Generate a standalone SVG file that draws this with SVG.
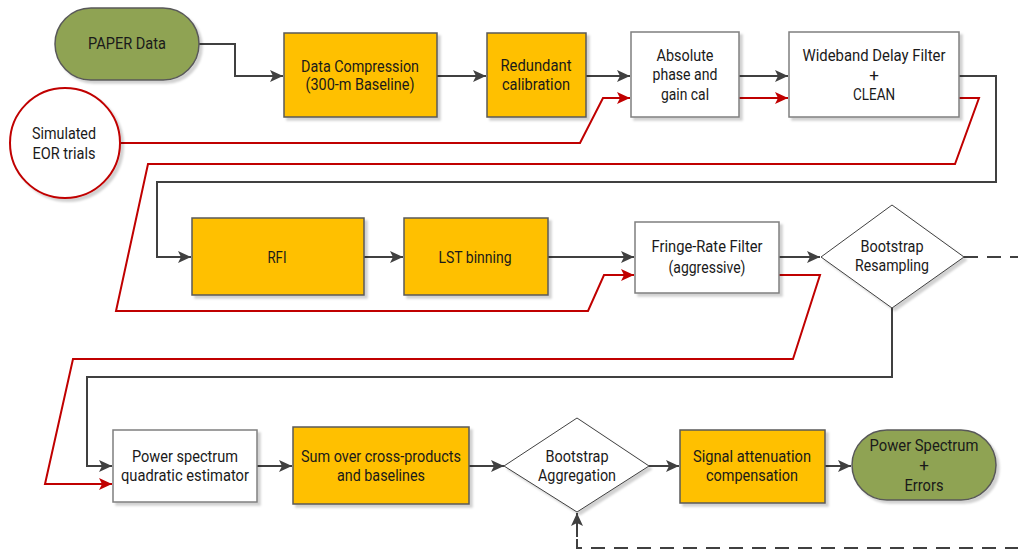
<svg xmlns="http://www.w3.org/2000/svg" width="1018" height="550" viewBox="0 0 1018 550">
<style>
text{font-family:Roboto,"Liberation Sans",Arial,sans-serif;font-size:17px;fill:#1a1a1a;text-anchor:middle;dominant-baseline:central}
.y{fill:#FFC000;stroke:#595959;stroke-width:1.5}
.w{fill:#ffffff;stroke:#7f7f7f;stroke-width:1.5}
.g{fill:#8FA352;stroke:#595959;stroke-width:1.5}
.d{fill:#ffffff;stroke:#404040;stroke-width:1}
.k{fill:none;stroke:#404040;stroke-width:2}
.r{fill:none;stroke:#C00000;stroke-width:2}
.ds{fill:none;stroke:#404040;stroke-width:2;stroke-dasharray:14 9}
</style>
<defs>
<filter id="sh" x="-10%" y="-10%" width="130%" height="130%"><feDropShadow dx="3" dy="3" stdDeviation="1" flood-color="#000" flood-opacity="0.18"/></filter>
<marker id="ak" markerUnits="userSpaceOnUse" markerWidth="14" markerHeight="12" refX="13" refY="6" orient="auto"><path d="M0,0 L13,6 L0,12 L3,6 Z" fill="#404040"/></marker>
<marker id="ar" markerUnits="userSpaceOnUse" markerWidth="14" markerHeight="12" refX="13" refY="6" orient="auto"><path d="M0,0 L13,6 L0,12 L3,6 Z" fill="#C00000"/></marker>
</defs>
<g id="connectors">
<path class="k" d="M199,44 H235 V76 H283" marker-end="url(#ak)"/>
<path class="k" d="M437,76 H486" marker-end="url(#ak)"/>
<path class="k" d="M586,76 H630" marker-end="url(#ak)"/>
<path class="r" d="M121,143 H580 L603,98 H630" marker-end="url(#ar)"/>
<path class="k" d="M739,76 H788" marker-end="url(#ak)"/>
<path class="r" d="M739,98 H788" marker-end="url(#ar)"/>
<path class="k" d="M959,76 H996 V182 H157 V257 H191" marker-end="url(#ak)"/>
<path class="r" d="M959,98 H979 L955,164 H148 L116,311 H588 L604,275 H634" marker-end="url(#ar)"/>
<path class="k" d="M364,257 H403" marker-end="url(#ak)"/>
<path class="k" d="M548,257 H634" marker-end="url(#ak)"/>
<path class="k" d="M779,257 H820" marker-end="url(#ak)"/>
<path class="r" d="M779,275 H820 L793,359 H73 L45,484 H112" marker-end="url(#ar)"/>
<path class="k" d="M892,308 V377 H87 V466 H112" marker-end="url(#ak)"/>
<path class="k" d="M257,466 H292" marker-end="url(#ak)"/>
<path class="k" d="M469,466 H504" marker-end="url(#ak)"/>
<path class="k" d="M649,466 H679" marker-end="url(#ak)"/>
<path class="k" d="M825,466 H851" marker-end="url(#ak)"/>
<path class="ds" d="M964,257 H1030 V548 H577 V537"/>
<path class="k" d="M577,537 V513" marker-end="url(#ak)"/>
</g>
<g id="paper-data"><rect class="g" x="55" y="8" width="144" height="72" rx="36" filter="url(#sh)"/><text x="127" y="43" textLength="78" lengthAdjust="spacingAndGlyphs">PAPER Data</text></g>
<g id="simulated-eor"><circle cx="65" cy="143" r="55" fill="#fff" stroke="#C00000" stroke-width="2" filter="url(#sh)"/><text x="64" y="133" textLength="64" lengthAdjust="spacingAndGlyphs">Simulated</text><text x="64" y="153" textLength="63" lengthAdjust="spacingAndGlyphs">EOR trials</text></g>
<g id="data-compression"><rect class="y" x="284" y="33" width="153" height="84" filter="url(#sh)"/><text x="360" y="66" textLength="118" lengthAdjust="spacingAndGlyphs">Data Compression</text><text x="360" y="84" textLength="109" lengthAdjust="spacingAndGlyphs">(300-m Baseline)</text></g>
<g id="redundant-cal"><rect class="y" x="487" y="33" width="99" height="84" filter="url(#sh)"/><text x="536" y="65" textLength="71" lengthAdjust="spacingAndGlyphs">Redundant</text><text x="536" y="84" textLength="68" lengthAdjust="spacingAndGlyphs">calibration</text></g>
<g id="absolute-cal"><rect class="w" x="631" y="32" width="108" height="85" filter="url(#sh)"/><text x="685" y="55" textLength="57" lengthAdjust="spacingAndGlyphs">Absolute</text><text x="685" y="74" textLength="65" lengthAdjust="spacingAndGlyphs">phase and</text><text x="685" y="94" textLength="48" lengthAdjust="spacingAndGlyphs">gain cal</text></g>
<g id="wideband"><rect class="w" x="789" y="32" width="170" height="85" filter="url(#sh)"/><text x="874" y="55" textLength="143" lengthAdjust="spacingAndGlyphs">Wideband Delay Filter</text><text x="874" y="75">+</text><text x="874" y="94" textLength="42" lengthAdjust="spacingAndGlyphs">CLEAN</text></g>
<g id="rfi"><rect class="y" x="192" y="218" width="172" height="77" filter="url(#sh)"/><text x="277" y="257" textLength="19" lengthAdjust="spacingAndGlyphs">RFI</text></g>
<g id="lst-binning"><rect class="y" x="404" y="218" width="144" height="77" filter="url(#sh)"/><text x="475" y="257" textLength="73" lengthAdjust="spacingAndGlyphs">LST binning</text></g>
<g id="fringe-rate"><rect class="w" x="635" y="222" width="144" height="71" filter="url(#sh)"/><text x="707" y="246" textLength="111" lengthAdjust="spacingAndGlyphs">Fringe-Rate Filter</text><text x="707" y="267" textLength="77" lengthAdjust="spacingAndGlyphs">(aggressive)</text></g>
<g id="bootstrap-resampling"><path class="d" d="M892,205 L964,257 L892,308 L821,257 Z" filter="url(#sh)"/><text x="892" y="246" textLength="63" lengthAdjust="spacingAndGlyphs">Bootstrap</text><text x="892" y="265" textLength="74" lengthAdjust="spacingAndGlyphs">Resampling</text></g>
<g id="power-spectrum-qe"><rect class="w" x="113" y="430" width="144" height="72" filter="url(#sh)"/><text x="185" y="456" textLength="106" lengthAdjust="spacingAndGlyphs">Power spectrum</text><text x="185" y="475" textLength="128" lengthAdjust="spacingAndGlyphs">quadratic estimator</text></g>
<g id="sum-cross"><rect class="y" x="293" y="427" width="176" height="77" filter="url(#sh)"/><text x="381" y="456" textLength="160" lengthAdjust="spacingAndGlyphs">Sum over cross-products</text><text x="381" y="475" textLength="88" lengthAdjust="spacingAndGlyphs">and baselines</text></g>
<g id="bootstrap-aggregation"><path class="d" d="M577,418 L649,466 L577,512 L504,466 Z" filter="url(#sh)"/><text x="577" y="456" textLength="63" lengthAdjust="spacingAndGlyphs">Bootstrap</text><text x="577" y="475" textLength="78" lengthAdjust="spacingAndGlyphs">Aggregation</text></g>
<g id="signal-attenuation"><rect class="y" x="680" y="430" width="145" height="73" filter="url(#sh)"/><text x="752" y="456" textLength="118" lengthAdjust="spacingAndGlyphs">Signal attenuation</text><text x="752" y="475" textLength="92" lengthAdjust="spacingAndGlyphs">compensation</text></g>
<g id="power-spectrum-errors"><rect class="g" x="852" y="430" width="144" height="70" rx="35" filter="url(#sh)"/><text x="924" y="445" textLength="109" lengthAdjust="spacingAndGlyphs">Power Spectrum</text><text x="924" y="465">+</text><text x="924" y="485" textLength="39" lengthAdjust="spacingAndGlyphs">Errors</text></g>
</svg>
